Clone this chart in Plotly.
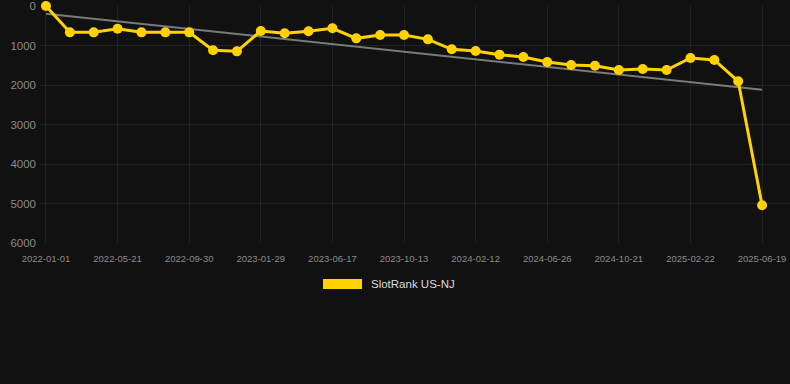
import plotly.graph_objects as go

series_name = "SlotRank US-NJ"
rank_values = [0, 667, 667, 574, 667, 667, 667, 1122, 1148, 633,
               692, 641, 565, 819, 734, 734, 844, 1097, 1139, 1232,
               1290, 1418, 1494, 1511, 1620, 1595, 1620, 1316, 1367, 1907,
               5046]
tick_labels = ["2022-01-01", "2022-05-21", "2022-09-30", "2023-01-29",
               "2023-06-17", "2023-10-13", "2024-02-12", "2024-06-26",
               "2024-10-21", "2025-02-22", "2025-06-19"]
trend_values = [195, 2119]
y_ticks = [0, 1000, 2000, 3000, 4000, 5000, 6000]

x_idx = list(range(len(rank_values)))
tick_pos = list(range(0, len(rank_values), 3))

BG = "#111111"
GRID = "#222222"
YELLOW = "#FFD200"
FONT = "Liberation Sans, Arial, sans-serif"

fig = go.Figure()
fig.add_trace(go.Scatter(
    x=[x_idx[0], x_idx[-1]], y=trend_values, mode="lines",
    line=dict(color="#7a7a7a", width=2), showlegend=False, hoverinfo="skip"))
fig.add_trace(go.Scatter(
    x=x_idx, y=rank_values, mode="lines+markers", name=series_name,
    line=dict(color=YELLOW, width=3), marker=dict(color=YELLOW, size=10),
    cliponaxis=False, showlegend=False))

fig.update_layout(
    width=790, height=384,
    paper_bgcolor=BG, plot_bgcolor=BG,
    margin=dict(l=40, r=0, t=6, b=141),
    font=dict(family=FONT, color="#8a8a8a"),
    xaxis=dict(range=[-0.25, 31.17], tickmode="array", tickvals=tick_pos,
               ticktext=tick_labels, showgrid=True, gridcolor=GRID,
               gridwidth=1, zeroline=False, showline=False, ticks="",
               tickfont=dict(size=9.5, color="#8a8a8a"), ticklabelstandoff=8),
    yaxis=dict(range=[6000, 0], tickmode="array", tickvals=y_ticks,
               showgrid=True, gridcolor=GRID, gridwidth=1, zeroline=False,
               showline=False, ticks="", tickfont=dict(size=11.5, color="#8a8a8a"),
               ticklabelstandoff=3),
    shapes=[dict(type="rect", xref="paper", yref="paper",
                 x0=(323 - 40) / 750, x1=(362 - 40) / 750,
                 y0=(243 - 289) / 237, y1=(243 - 279) / 237,
                 fillcolor=YELLOW, line=dict(width=0))],
    annotations=[dict(text=series_name, xref="paper", yref="paper",
                      x=(369 - 40) / 750, y=(243 - 284) / 237,
                      xanchor="left", yanchor="middle", showarrow=False,
                      font=dict(size=11.5, color="#dddddd", family=FONT))],
)

fig.write_html("out.html", config={"displayModeBar": False},
               post_script="document.body.style.margin='0';document.body.style.background='#111111';")
